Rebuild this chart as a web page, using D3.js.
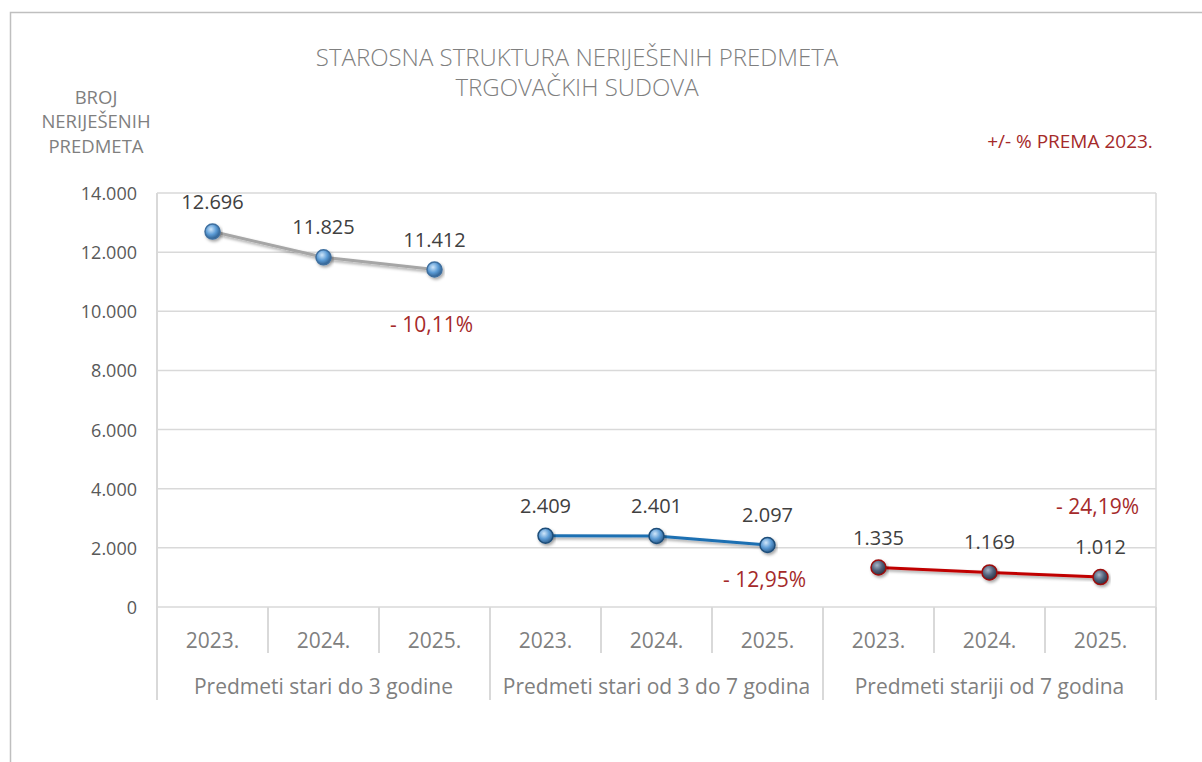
<!DOCTYPE html>
<html>
<head>
<meta charset="utf-8">
<script src="https://cdn.jsdelivr.net/npm/d3@7"></script>
<style>
  body { margin: 0; background: #fff; }
  text { font-family: "Open Sans", "Noto Sans", sans-serif; }
</style>
</head>
<body>
<script>
// Chart data
var groups = ["Predmeti stari do 3 godine", "Predmeti stari od 3 do 7 godina", "Predmeti stariji od 7 godina"];
var years = ["2023.", "2024.", "2025."];
var doTri = [12696, 11825, 11412];
var triDoSedam = [2409, 2401, 2097];
var preko7 = [1335, 1169, 1012];
var promjena = ["- 10,11%", "- 12,95%", "- 24,19%"];
var yTicks = [0, 2000, 4000, 6000, 8000, 10000, 12000, 14000];

var svgWidth = 1202;
var svgHeight = 762;
var margin = { top: 193, right: 46, bottom: 155, left: 157 };
var width = svgWidth - margin.left - margin.right;
var height = svgHeight - margin.top - margin.bottom;

var fmt = d3.formatLocale({ decimal: ",", thousands: ".", grouping: [3], currency: ["", ""] }).format(",d");

var svg = d3.select("body").append("svg")
  .attr("width", svgWidth)
  .attr("height", svgHeight);

// outer frame (only top and left visible in the original)
svg.append("path")
  .attr("d", "M10.5,762 L10.5,12.5 L1202,12.5")
  .attr("fill", "none")
  .attr("stroke", "#bfbfbf")
  .attr("stroke-width", 1.5);

var defs = svg.append("defs");
var shadow = defs.append("filter").attr("id", "shadow")
  .attr("x", "-20%").attr("y", "-50%").attr("width", "140%").attr("height", "200%");
shadow.append("feDropShadow").attr("dx", 1.5).attr("dy", 2).attr("stdDeviation", 1.5)
  .attr("flood-color", "#000").attr("flood-opacity", 0.35);

function sphere(id, light, mid, dark) {
  var g = defs.append("radialGradient").attr("id", id)
    .attr("cx", "40%").attr("cy", "35%").attr("r", "65%");
  g.append("stop").attr("offset", "0%").attr("stop-color", light);
  g.append("stop").attr("offset", "55%").attr("stop-color", mid);
  g.append("stop").attr("offset", "100%").attr("stop-color", dark);
}
sphere("blueBall", "#cfe6fa", "#5b9bd5", "#2f5f8f");
sphere("greyBall", "#a7b4c6", "#50607a", "#2b3444");

var chartGroup = svg.append("g")
  .attr("transform", `translate(${margin.left}, ${margin.top})`);

// scales
var slots = [];
groups.forEach(function(g, gi) {
  years.forEach(function(y, yi) { slots.push(gi * years.length + yi); });
});

var x = d3.scaleBand().domain(slots).range([0, width]);
var y = d3.scaleLinear().domain([0, 14000]).range([height, 0]);

// gridlines
chartGroup.append("g")
  .selectAll("line")
  .data(yTicks)
  .enter()
  .append("line")
  .attr("x1", 0).attr("x2", width)
  .attr("y1", d => y(d)).attr("y2", d => y(d))
  .attr("stroke", "#d9d9d9")
  .attr("stroke-width", 1.5);

// right border of plot area
chartGroup.append("line")
  .attr("x1", width).attr("x2", width)
  .attr("y1", 0).attr("y2", height)
  .attr("stroke", "#d9d9d9").attr("stroke-width", 1.5);

// y axis
var leftAxis = d3.axisLeft(y).tickValues(yTicks).tickFormat(fmt).tickSize(0).tickPadding(20);
var yAxisG = chartGroup.append("g").call(leftAxis);
yAxisG.select(".domain").remove();
yAxisG.selectAll("text")
  .attr("font-size", "18px")
  .attr("fill", "#595959")
  .attr("dy", "0.36em")
  .style("font-family", "'Open Sans', sans-serif");

// y axis line extends through the category table
chartGroup.append("line")
  .attr("x1", 0).attr("x2", 0)
  .attr("y1", 0).attr("y2", height + 93)
  .attr("stroke", "#d9d9d9").attr("stroke-width", 2);

// category separators
chartGroup.append("g")
  .selectAll("line")
  .data(slots.slice(1).concat([slots.length]))
  .enter()
  .append("line")
  .attr("x1", d => d * x.bandwidth())
  .attr("x2", d => d * x.bandwidth())
  .attr("y1", height)
  .attr("y2", d => d % years.length === 0 ? height + 93 : height + 46)
  .attr("stroke", "#d9d9d9")
  .attr("stroke-width", 2);

// year labels
chartGroup.append("g")
  .selectAll("text")
  .data(slots)
  .enter()
  .append("text")
  .attr("x", d => x(d) + x.bandwidth() / 2)
  .attr("y", height + 40.5)
  .attr("text-anchor", "middle")
  .attr("font-size", "21px")
  .attr("fill", "#7f7f7f")
  .text(d => years[d % years.length]);

// group labels
chartGroup.append("g")
  .selectAll("text")
  .data(groups)
  .enter()
  .append("text")
  .attr("x", (d, i) => x(i * years.length) + x.bandwidth() * years.length / 2)
  .attr("y", height + 86.5)
  .attr("text-anchor", "middle")
  .attr("font-size", "21px")
  .attr("fill", "#7f7f7f")
  .text(d => d);

// series
var series = [
  { values: doTri, line: "#a6a6a6", ball: "url(#blueBall)", edge: "#3f6f9f", pct: 62 },
  { values: triDoSedam, line: "#1f6fb2", ball: "url(#blueBall)", edge: "#1f4e79", pct: 42.5 },
  { values: preko7, line: "#c00000", ball: "url(#greyBall)", edge: "#9c0d0d", pct: -63.5 }
];

var line = d3.line()
  .x(d => x(d.slot) + x.bandwidth() / 2)
  .y(d => y(d.value));

series.forEach(function(s, si) {
  var pts = s.values.map((v, i) => ({ slot: si * years.length + i, value: v }));
  var g = chartGroup.append("g");

  g.append("path")
    .datum(pts)
    .attr("d", line)
    .attr("fill", "none")
    .attr("stroke", s.line)
    .attr("stroke-width", 3)
    .attr("filter", "url(#shadow)");

  g.selectAll("circle")
    .data(pts)
    .enter()
    .append("circle")
    .attr("cx", d => x(d.slot) + x.bandwidth() / 2)
    .attr("cy", d => y(d.value))
    .attr("r", 7.5)
    .attr("fill", s.ball)
    .attr("stroke", s.edge)
    .attr("stroke-width", 1.5)
    .attr("filter", "url(#shadow)");

  g.selectAll("text.val")
    .data(pts)
    .enter()
    .append("text")
    .attr("class", "val")
    .attr("x", d => x(d.slot) + x.bandwidth() / 2)
    .attr("y", d => y(d.value) - 23)
    .attr("text-anchor", "middle")
    .attr("font-size", "20px")
    .attr("fill", "#404040")
    .text(d => fmt(d.value));

  var last = pts[pts.length - 1];
  g.append("text")
    .attr("x", x(last.slot) + x.bandwidth() / 2 - 3)
    .attr("y", y(last.value) + s.pct)
    .attr("text-anchor", "middle")
    .attr("font-size", "21px")
    .attr("fill", "#a52a2a")
    .text(promjena[si]);
});

// titles
var title = svg.append("text")
  .attr("x", 577)
  .attr("y", 65.5)
  .attr("text-anchor", "middle")
  .attr("font-size", "24px")
  .attr("font-weight", 300)
  .attr("fill", "#7f7f7f");
title.append("tspan").attr("x", 577).text("STAROSNA STRUKTURA NERIJEŠENIH PREDMETA");
title.append("tspan").attr("x", 577).attr("dy", 30).text("TRGOVAČKIH SUDOVA");

var yTitle = svg.append("text")
  .attr("x", 96)
  .attr("y", 103.5)
  .attr("text-anchor", "middle")
  .attr("font-size", "18.5px")
  .attr("fill", "#7f7f7f");
["BROJ", "NERIJEŠENIH", "PREDMETA"].forEach(function(t, i) {
  yTitle.append("tspan").attr("x", 96).attr("dy", i === 0 ? 0 : 24.5).text(t);
});

svg.append("text")
  .attr("x", 1070)
  .attr("y", 148)
  .attr("text-anchor", "middle")
  .attr("font-size", "19px")
  .attr("fill", "#a52a2a")
  .text("+/- % PREMA 2023.");
</script>
</body>
</html>
